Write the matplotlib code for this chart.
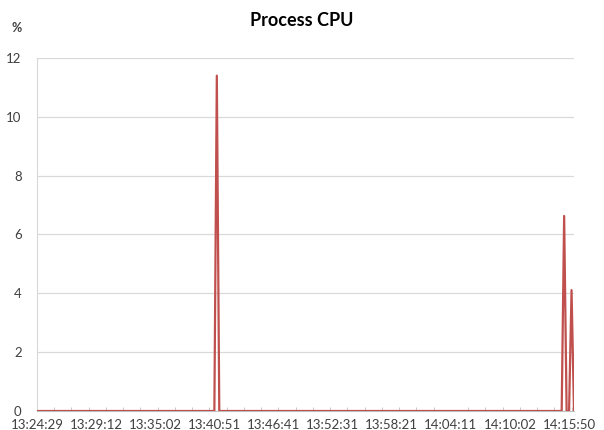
import numpy as np
import matplotlib
matplotlib.use("Agg")
import matplotlib.pyplot as plt
from matplotlib.ticker import MultipleLocator, FixedLocator

# Prepare Data
n_points = 219
spike_idx = [73, 214, 217]
spike_val = [11.4, 6.63, 4.11]
label_idx = [0, 24, 48, 72, 96, 120, 144, 168, 192, 216]
time_labels = ['13:24:29', '13:29:12', '13:35:02', '13:40:51', '13:46:41',
               '13:52:31', '13:58:21', '14:04:11', '14:10:02', '14:15:50']

cpu = np.zeros(n_points)
for i, v in zip(spike_idx, spike_val):
    cpu[i] = v

plt.rcParams['font.family'] = ['Lato', 'DejaVu Sans']

fig = plt.figure(figsize=(6.04, 4.30), dpi=100, facecolor='white')
ax = fig.add_axes([37/604, 1-411/430, (574-37)/604, (411-58)/430])

ax.plot(np.arange(n_points), cpu, color='#c0504d', linewidth=1.6, zorder=3)

ax.set_xlim(0, n_points - 1)
ax.set_ylim(0, 12)
ax.yaxis.set_major_locator(MultipleLocator(2))
ax.grid(axis='y', color='#d9d9d9', linewidth=0.9)
ax.set_axisbelow(True)

ax.set_xticks(label_idx)
ax.set_xticklabels(time_labels)
ax.xaxis.set_minor_locator(FixedLocator(np.arange(0, n_points, 7)))
ax.tick_params(axis='x', which='major', length=0, pad=6, labelsize=9.5, labelcolor='#404040')
ax.tick_params(axis='x', which='minor', length=3, direction='in', color='#bfbfbf')
ax.tick_params(axis='y', length=0, pad=11, labelsize=9.5, labelcolor='#404040')

for s in ['top', 'right']:
    ax.spines[s].set_visible(False)
ax.spines['left'].set_color('#d9d9d9')
ax.spines['bottom'].set_color('#bfbfbf')

fig.text(302/604, 1-20/430, 'Process CPU', ha='center', va='center',
         fontsize=13, fontweight='bold', color='black')
fig.text(17/604, 1-28/430, '%', ha='center', va='center',
         fontsize=9, fontweight='bold', color='#404040')

fig.savefig('out.png', dpi=100, facecolor='white')
